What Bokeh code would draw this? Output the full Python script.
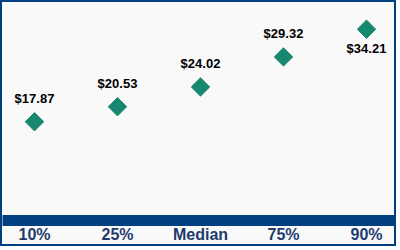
import math
from bokeh.plotting import figure
from bokeh.models import ColumnDataSource, FactorRange, Range1d
from bokeh.embed import file_html
from bokeh.resources import INLINE
from bokeh.core.properties import value

categories = ["10%", "25%", "Median", "75%", "90%"]
wages = [17.87, 20.53, 24.02, 29.32, 34.21]
wage_labels = ["$17.87", "$20.53", "$24.02", "$29.32", "$34.21"]
label_below = [False, False, False, False, True]

BLUE = "#004080"
TEAL = "#17876F"
BG = "#F9F9F9"

src = ColumnDataSource(dict(x=categories, y=wages, t=wage_labels))
above_idx = [i for i, b in enumerate(label_below) if not b]
below_idx = [i for i, b in enumerate(label_below) if b]
src_above = ColumnDataSource(dict(x=[categories[i] for i in above_idx],
                                  y=[wages[i] for i in above_idx],
                                  t=[wage_labels[i] for i in above_idx]))
src_below = ColumnDataSource(dict(x=[categories[i] for i in below_idx],
                                  y=[wages[i] for i in below_idx],
                                  t=[wage_labels[i] for i in below_idx]))

# 396x246 drawing area + 2px border on each side = 400x250 page
p = figure(width=396, height=246,
           x_range=FactorRange(factors=categories, range_padding=-0.1145,
                               range_padding_units="absolute"),
           y_range=Range1d(0.44, 38.93),
           output_backend="svg", toolbar_location=None,
           y_axis_location=None, min_border=0, min_border_bottom=28,
           background_fill_color=BG, border_fill_color=BG,
           outline_line_color=None,
           styles={"border": f"2px solid {BLUE}"})

p.xgrid.grid_line_color = None
p.ygrid.grid_line_color = None

ax = p.xaxis[0]
ax.axis_line_width = 11
ax.axis_line_color = BLUE
ax.major_tick_line_color = None
ax.minor_tick_line_color = None
ax.major_label_text_font = "Liberation Sans"
ax.major_label_text_font_style = "bold"
ax.major_label_text_font_size = "16px"
ax.major_label_text_color = "#1F3B6E"
ax.major_label_standoff = -1

p.scatter("x", "y", source=src, marker="square", angle=math.pi / 4,
          size=13, fill_color=TEAL, line_color=TEAL)

common = dict(text="t", text_align="center",
              text_font=value("Liberation Sans"), text_font_style="bold",
              text_font_size="13px", text_color="#000000")
p.text("x", "y", source=src_above, y_offset=-23, text_baseline="alphabetic", **common)
p.text("x", "y", source=src_below, y_offset=19, text_baseline="alphabetic", **common)

open("out.html", "w").write(file_html(p, INLINE))
